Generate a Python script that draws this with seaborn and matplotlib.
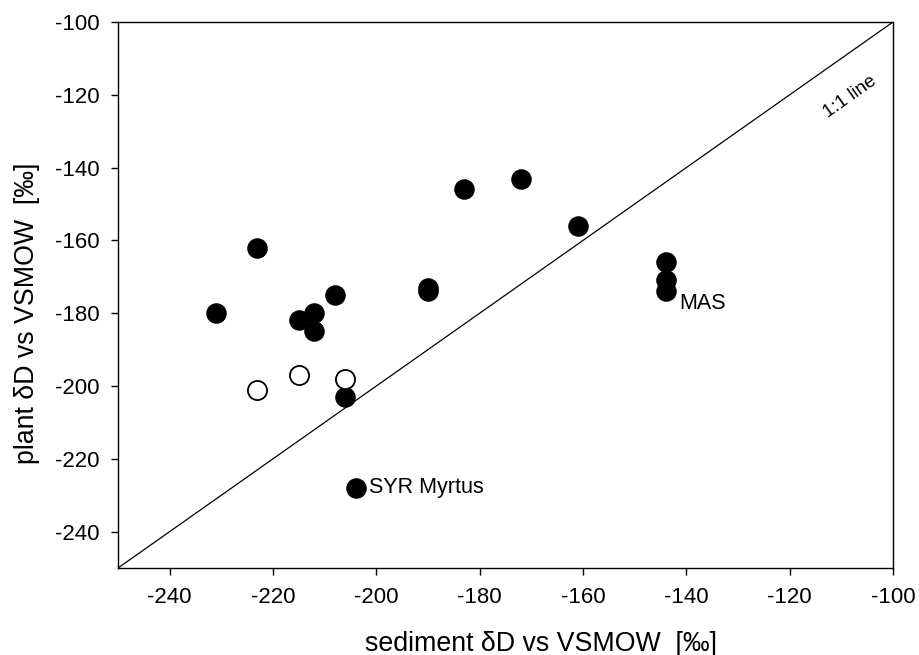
import matplotlib
matplotlib.use("Agg")
import matplotlib.pyplot as plt
import seaborn as sns
import pandas as pd
import numpy as np

sns.set_theme(style="ticks")
plt.rcParams['font.family'] = ['Liberation Sans', 'DejaVu Sans']
plt.rcParams['axes.unicode_minus'] = False
plt.rcParams['text.color'] = 'black'

# filled points
sed_filled = [-231, -223, -215, -212, -212, -208, -206, -190, -190, -183, -172, -161, -144, -144, -144, -204]
plant_filled = [-180, -162, -182, -180, -185, -175, -203, -173, -174, -146, -143, -156, -166, -171, -174, -228]
# open points
sed_open = [-223, -215, -206]
plant_open = [-201, -197, -198]

one_to_one = [-250, -100]

df_f = pd.DataFrame({"sed": sed_filled, "plant": plant_filled})
df_o = pd.DataFrame({"sed": sed_open, "plant": plant_open})

fig = plt.figure(figsize=(9.19, 6.55), dpi=100)
ax = fig.add_axes([0.1284, 0.1328, 0.8433, 0.8336])

ax.plot(one_to_one, one_to_one, color="black", lw=0.9, zorder=1)
sns.scatterplot(data=df_f, x="sed", y="plant", ax=ax, s=190, color="black",
                edgecolor="black", linewidth=1, zorder=3)
sns.scatterplot(data=df_o, x="sed", y="plant", ax=ax, s=190, facecolor="white",
                edgecolor="black", linewidth=1.3, zorder=3)

ax.set_xlim(-250, -100)
ax.set_ylim(-250, -100)
ax.set_xticks(np.arange(-240, -99, 20))
ax.set_yticks(np.arange(-240, -99, 20))
ax.tick_params(direction="out", length=5, width=1, labelsize=16, color="black", labelcolor="black")
ax.tick_params(axis="x", pad=9)
ax.tick_params(axis="y", pad=8)
for sp in ax.spines.values():
    sp.set_color("black")
    sp.set_linewidth(1)

ax.set_xlabel("sediment δD vs VSMOW  [‰]", fontsize=19.3, color="black")
ax.set_ylabel("plant δD vs VSMOW  [‰]", fontsize=19.3, color="black")
ax.xaxis.set_label_coords(0.546, -0.115)
ax.yaxis.set_label_coords(-0.101, 0.467)

ax.text(-141.3, -174.5, "MAS", fontsize=15.5, ha="left", va="top")
ax.text(-201.5, -228, "SYR Myrtus", fontsize=15.5, ha="left", va="center")
ax.text(-108.3, -120.6, "1:1 line", fontsize=13.5, ha="center", va="center", rotation=35.2)

fig.savefig("out.png", dpi=100)
